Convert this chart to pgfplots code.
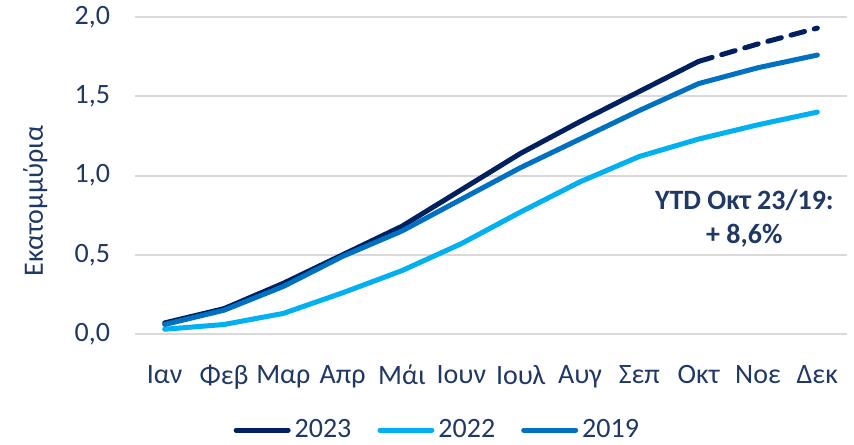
\documentclass[border=0pt]{standalone}
\usepackage{fontspec}
\setmainfont{Carlito}
\usepackage{pgfplots}
\pgfplotsset{compat=1.18}

\definecolor{c2023}{RGB}{0,32,96}
\definecolor{c2022}{RGB}{0,176,240}
\definecolor{c2019}{RGB}{0,112,192}
\definecolor{txt}{RGB}{31,56,100}
\definecolor{gridc}{RGB}{217,217,217}

\begin{document}
\begin{tikzpicture}
\useasboundingbox (-67.5pt,-55pt) rectangle (359.5pt,167pt);
\begin{axis}[
  at={(0,0)}, anchor=south west,
  scale only axis, width=356pt, height=158.5pt,
  xmin=-0.5, xmax=11.5, ymin=0, ymax=2,
  xtick={0,...,11},
  xticklabels={Ιαν,Φεβ,Μαρ,Απρ,Μάι,Ιουν,Ιουλ,Αυγ,Σεπ,Οκτ,Νοε,Δεκ},
  ytick={0,0.5,1,1.5,2},
  yticklabel style={/pgf/number format/fixed, /pgf/number format/fixed zerofill,
    /pgf/number format/precision=1, /pgf/number format/use comma,
    /pgf/number format/assume math mode=true, xshift=-9pt},
  axis line style={draw=none},
  major tick style={draw=none},
  ymajorgrids, major grid style={gridc, line width=1pt},
  tick label style={font=\fontsize{14}{16}\selectfont, text=txt},
  xticklabel style={yshift=-12pt},
  ylabel={Εκατομμύρια},
  ylabel style={at={(axis description cs:-0.14,0.42)}, anchor=center, font=\fontsize{14}{16}\selectfont, text=txt},
  legend columns=3,
  legend style={draw=none, at={(axis description cs:0.426,-0.303)}, anchor=center,
    font=\fontsize{14}{16}\selectfont, text=txt, /tikz/every even column/.append style={column sep=11pt}},
  legend image code/.code={\draw[#1, line cap=round] (0pt,0pt) -- (26pt,0pt);},
  every axis plot/.append style={line width=2.5pt, line cap=round, line join=round},
]
\addplot[c2023] coordinates {
(0,0.07) (1,0.16) (2,0.32) (3,0.50) (4,0.68) (5,0.91) (6,1.14) (7,1.34) (8,1.53) (9,1.72)};
\addlegendentry{2023}
\addplot[c2022] coordinates {
(0,0.03) (1,0.06) (2,0.13) (3,0.26) (4,0.40) (5,0.57) (6,0.77) (7,0.96) (8,1.12) (9,1.23) (10,1.32) (11,1.40)};
\addlegendentry{2022}
\addplot[c2019] coordinates {
(0,0.06) (1,0.15) (2,0.30) (3,0.49) (4,0.65) (5,0.85) (6,1.05) (7,1.23) (8,1.41) (9,1.58) (10,1.68) (11,1.76)};
\addlegendentry{2019}
\addplot[c2023, dash pattern=on 7pt off 5pt, forget plot] coordinates {
(9,1.72) (10,1.83) (11,1.93)};
\node[align=center, text=txt, font=\bfseries\fontsize{14}{17}\selectfont] at (axis cs:9.77,0.73) {YTD Οκτ 23/19:\\+ 8,6\%};
\end{axis}
\end{tikzpicture}
\end{document}
